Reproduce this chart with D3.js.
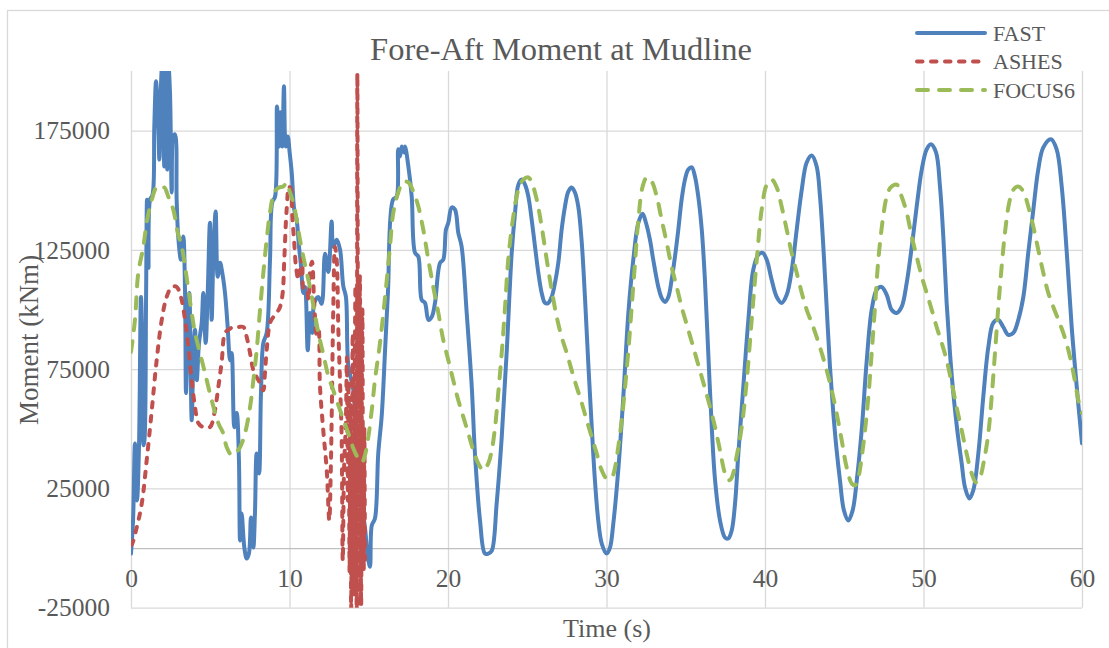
<!DOCTYPE html>
<html>
<head>
<meta charset="utf-8">
<script src="https://cdn.jsdelivr.net/npm/d3@7/dist/d3.min.js"></script>
<style>
  html, body { margin: 0; padding: 0; background: #fff; }
  svg { display: block; }
  text { font-family: "Liberation Serif", "Times New Roman", serif; fill: #595959; }
</style>
</head>
<body>
<svg id="chart" width="1109" height="648"></svg>
<script>
// Fore-aft tower-base moment (kNm) versus time (s) for three codes.
const fastSeries = [[0,-2300],[0.13,11600],[0.25,43900],[0.38,20000],[0.50,41000],[0.63,105300],[0.73,78800],[0.79,43100],[0.85,45200],[0.95,104100],[1.01,146100],[1.10,117500],[1.20,146100],[1.36,148200],[1.47,176800],[1.58,195700],[1.72,176800],[1.79,162900],[1.89,193600],[1.97,204100],[2.10,160000],[2.19,205000],[2.29,158700],[2.35,203700],[2.46,191100],[2.57,149100],[2.67,172600],[2.78,173500],[2.88,146100],[2.98,130600],[3.15,120900],[3.30,130600],[3.41,107000],[3.47,65000],[3.58,92700],[3.68,107000],[3.83,53600],[3.93,78800],[4.04,91500],[4.15,70400],[4.29,86000],[4.46,94400],[4.56,107000],[4.71,86000],[4.84,107000],[4.98,136400],[5.09,95700],[5.19,120900],[5.34,141100],[5.47,113800],[5.62,119600],[5.76,115400],[5.93,107000],[6.10,92700],[6.25,78800],[6.35,81800],[6.52,50700],[6.67,56600],[6.81,36800],[6.88,3200],[6.98,14500],[7.15,200],[7.30,-4400],[7.44,-2300],[7.57,12800],[7.72,200],[7.82,14500],[7.93,39700],[8.08,31300],[8.20,65000],[8.35,86000],[8.56,90200],[8.77,120900],[8.91,144900],[9.09,147400],[9.21,185200],[9.34,168400],[9.44,182700],[9.55,168400],[9.65,193600],[9.76,168400],[9.89,172600],[10.01,165900],[10.14,157500],[10.30,141900],[10.45,137700],[10.60,126400],[10.73,118000],[10.87,107000],[10.98,109500],[11.15,83000],[11.29,98600],[11.44,90200],[11.56,102800],[11.82,105300],[12.03,102400],[12.24,123400],[12.45,115800],[12.66,136900],[12.76,126400],[12.98,129300],[13.19,125100],[13.39,110000],[13.56,105300],[13.71,76700],[14.03,66200],[14.20,46500],[14.40,31300],[14.56,19100],[14.76,8600],[14.97,-4800],[15.08,-7800],[15.19,9500],[15.39,12400],[15.60,39700],[15.82,55700],[16.03,83000],[16.21,107000],[16.53,146100],[16.76,147400],[16.86,167200],[16.97,164200],[17.08,168400],[17.22,165900],[17.29,168400],[17.50,160000],[17.71,147400],[17.92,123800],[18.13,122200],[18.34,104100],[18.55,102800],[18.76,95700],[18.97,96900],[19.18,102800],[19.50,119600],[19.70,120900],[19.87,133500],[20.02,136400],[20.23,142800],[20.44,141900],[20.65,132200],[20.86,126400],[21.18,98600],[21.50,67500],[21.70,39700],[22.02,11600],[22.33,-2300],[22.54,-2300],[22.76,-1100],[23.07,18700],[23.39,46500],[23.70,81800],[24.02,123800],[24.23,140600],[24.44,152400],[24.65,154500],[24.86,152400],[25.07,147400],[25.28,137700],[25.49,126400],[25.70,115400],[25.91,107000],[26.12,102800],[26.33,102800],[26.54,105300],[26.75,111200],[26.96,119600],[27.17,133500],[27.38,143200],[27.59,149500],[27.80,151200],[28.01,149100],[28.22,143200],[28.44,128000],[28.64,105300],[28.85,77600],[29.07,50700],[29.27,28400],[29.48,11600],[29.70,1900],[30.01,-2300],[30.22,200],[30.43,10300],[30.74,32600],[31.06,63300],[31.38,98600],[31.69,120900],[32.01,136400],[32.28,140200],[32.49,136400],[32.74,129300],[32.95,120900],[33.27,109500],[33.48,104900],[33.69,103200],[33.90,105300],[34.11,112500],[34.32,122200],[34.53,133500],[34.74,146100],[34.95,154500],[35.16,158700],[35.38,159600],[35.58,155800],[35.79,147400],[36.01,133500],[36.21,112500],[36.42,81800],[36.64,50700],[36.85,28400],[37.16,11600],[37.48,4400],[37.68,4000],[37.90,7400],[38.11,18700],[38.32,39700],[38.63,67500],[38.95,95700],[39.26,116700],[39.58,123000],[39.85,123800],[40.11,120900],[40.42,112500],[40.74,105300],[41.05,102800],[41.37,106200],[41.69,116700],[42.00,133500],[42.32,150300],[42.63,161700],[42.95,164600],[43.26,160000],[43.47,147400],[43.68,126400],[43.89,101100],[44.10,75900],[44.31,56600],[44.52,41000],[44.73,28400],[44.98,15800],[45.26,11600],[45.53,15800],[45.79,28400],[46.10,49400],[46.42,78800],[46.73,99900],[47.05,108300],[47.36,109500],[47.68,106200],[47.99,99900],[48.31,98600],[48.62,101100],[48.94,111200],[49.26,126400],[49.57,143200],[49.89,158700],[50.20,167200],[50.47,169300],[50.79,165900],[51.04,151600],[51.25,130600],[51.46,102800],[51.67,81800],[51.88,65000],[52.13,49400],[52.41,35500],[52.62,25400],[52.89,20800],[53.14,24200],[53.46,39700],[53.77,63300],[54.09,84300],[54.40,94400],[54.72,95700],[55.03,92700],[55.35,89400],[55.67,90200],[55.98,95700],[56.30,105300],[56.61,123800],[56.93,141900],[57.24,158700],[57.56,168000],[58.04,171400],[58.40,167200],[58.72,151600],[59.04,123800],[59.35,92700],[59.67,67500],[60,43900]];

const ashesSeries = [[0,1100],[0.08,1900],[0.36,8600],[0.68,18700],[0.99,36800],[1.31,57800],[1.62,78800],[1.94,95700],[2.25,105300],[2.57,109500],[2.88,109500],[3.15,105300],[3.41,95700],[3.62,84300],[3.83,70400],[4.04,59100],[4.25,52400],[4.56,50700],[4.98,50700],[5.26,56600],[5.51,67500],[5.72,78000],[5.93,90200],[6.14,91500],[6.45,92700],[6.77,92700],[7.09,92700],[7.30,88500],[7.51,81800],[7.72,74600],[7.93,71700],[8.14,69200],[8.35,66200],[8.45,73400],[8.56,83000],[8.77,94400],[8.98,96900],[9.19,98600],[9.40,101100],[9.57,107000],[9.67,120900],[9.82,141900],[9.97,151600],[10.09,150300],[10.18,139000],[10.30,128000],[10.41,118000],[10.56,112500],[10.69,117500],[10.81,121700],[10.91,108300],[11.09,108300],[11.19,104100],[11.32,117500],[11.42,120100],[11.55,104100],[11.72,89400],[11.83,91500],[11.92,68300],[12.13,49400],[12.35,32600],[12.51,11600],[12.60,31300],[12.66,54000],[12.76,99400],[12.87,126400],[12.98,120500],[13.08,91900],[13.19,69200],[13.29,46500],[13.36,-5300],[13.44,32600],[13.56,54000],[13.62,80000],[13.68,20000],[13.73,70000],[13.79,-10000],[13.84,60000],[13.89,-26000],[13.94,40000],[13.99,90000],[14.04,10000],[14.08,-20000],[14.12,70000],[14.16,110000],[14.20,20000],[14.24,-27000],[14.28,199100],[14.32,60000],[14.36,-28000],[14.40,40000],[14.44,114000],[14.48,30000],[14.52,-24000],[14.56,60000],[14.60,100000],[14.64,10000],[14.68,-10000],[14.72,50000],[14.76,-5000]];

const focusSeries = [[0,82200],[0.25,95700],[0.46,115400],[0.78,126400],[0.99,136400],[1.31,146100],[1.62,151200],[1.89,150300],[2.10,151200],[2.35,147400],[2.67,141900],[2.95,132200],[3.20,126400],[3.41,118000],[3.62,108300],[3.83,98600],[4.04,90200],[4.35,81800],[4.67,73400],[5.09,62000],[5.51,52400],[5.82,48100],[6.04,42300],[6.35,38900],[6.56,39700],[6.88,42300],[7.19,48100],[7.51,59100],[7.72,70400],[7.93,83000],[8.14,99900],[8.35,115400],[8.56,129300],[8.77,140700],[9.04,149100],[9.34,151200],[9.61,151600],[9.82,153300],[10.03,149100],[10.24,144900],[10.45,137700],[10.66,129300],[10.87,122200],[11.09,115400],[11.29,109500],[11.50,102000],[11.82,90200],[12.13,81400],[12.45,72100],[12.76,66200],[13.08,59900],[13.39,54000],[13.71,48100],[14.03,41800],[14.34,37600],[14.57,36000],[14.76,38900],[14.97,46500],[15.19,57800],[15.39,70400],[15.71,86000],[16.03,105300],[16.34,126400],[16.55,140700],[16.86,149100],[17.18,153700],[17.50,153300],[17.81,149500],[18.13,143200],[18.44,133500],[18.76,120900],[19.07,109500],[19.39,98600],[19.70,87300],[20.02,78800],[20.33,70400],[20.65,62000],[20.97,54900],[21.28,48100],[21.60,41000],[21.91,35500],[22.23,32600],[22.54,35500],[22.76,41000],[22.97,50700],[23.17,65000],[23.39,81800],[23.60,101100],[23.80,120900],[24.12,139000],[24.44,150300],[24.75,154500],[25.07,155400],[25.28,153300],[25.60,146100],[25.91,134800],[26.23,120900],[26.54,108300],[26.86,96900],[27.17,88500],[27.49,81800],[27.80,74600],[28.12,67500],[28.44,60800],[28.75,53600],[29.07,46500],[29.38,39700],[29.70,32600],[30.01,29200],[30.33,29600],[30.54,33900],[30.74,42300],[30.96,53600],[31.17,67500],[31.38,83000],[31.59,101100],[31.80,119600],[32.01,137700],[32.28,151600],[32.54,155400],[32.85,153700],[33.17,147400],[33.48,137700],[33.80,128000],[34.11,117900],[34.43,109500],[34.74,101100],[35.16,91500],[35.58,81800],[36.01,71700],[36.42,62000],[36.85,50700],[37.16,41000],[37.48,31300],[37.73,28400],[37.90,29500],[38.20,38100],[38.53,50700],[38.85,70400],[39.16,95700],[39.48,120900],[39.79,141900],[40.11,152400],[40.42,154500],[40.74,151200],[41.05,143200],[41.37,133500],[41.68,123800],[42.00,115400],[42.32,107000],[42.63,99900],[42.95,94400],[43.26,88500],[43.58,81800],[43.89,74600],[44.21,66200],[44.52,56600],[44.84,45200],[45.15,33900],[45.47,27100],[45.68,26300],[45.89,29600],[46.10,38100],[46.31,49400],[46.52,63300],[46.73,81800],[46.94,101100],[47.15,120900],[47.43,137700],[47.68,147400],[47.93,151200],[48.31,152400],[48.62,147400],[48.94,140700],[49.26,130600],[49.57,122200],[49.89,113800],[50.20,107000],[50.52,99900],[50.83,92700],[51.15,86000],[51.46,78800],[51.78,69200],[52.09,59100],[52.41,49400],[52.72,39700],[53.04,31300],[53.31,27500],[53.56,29600],[53.82,36800],[54.09,48100],[54.30,63300],[54.51,81800],[54.72,101100],[54.93,117900],[55.14,132200],[55.41,144900],[55.67,150300],[55.98,151600],[56.30,149500],[56.61,143200],[56.93,134800],[57.24,125100],[57.56,115400],[57.87,107000],[58.19,101100],[58.51,95700],[58.82,90200],[59.14,83000],[59.46,73400],[59.77,62000],[60,56600]];

const seriesNames = ["FAST", "ASHES", "FOCUS6"];
const xTicks = [0, 10, 20, 30, 40, 50, 60];
const yTicks = [-25000, 25000, 75000, 125000, 175000];
const xDomain = [0, 60];
const yDomain = [-25000, 200000];

const svg = d3.select("#chart");
const plot = { left: 131, right: 1082, top: 71.1, bottom: 607.7 };

const x = d3.scaleLinear().domain(xDomain).range([plot.left, plot.right]);
const y = d3.scaleLinear().domain(yDomain).range([plot.bottom, plot.top]);

// chart area frame
svg.append("rect")
  .attr("x", 7.5).attr("y", 10.5)
  .attr("width", 1130).attr("height", 680)
  .attr("fill", "#fff").attr("stroke", "#D9D9D9").attr("stroke-width", 1.3);

// vertical gridlines
svg.append("g")
  .attr("transform", `translate(0,${plot.bottom})`)
  .call(d3.axisBottom(x).tickValues(xTicks).tickSize(-(plot.bottom - plot.top)).tickFormat(""))
  .call(g => g.select(".domain").remove())
  .call(g => g.selectAll(".tick line").attr("stroke", "#D9D9D9").attr("stroke-width", 1.3));

// horizontal gridlines + value labels (plain hyphen for negatives)
svg.append("g")
  .attr("transform", `translate(${plot.left},0)`)
  .call(d3.axisLeft(y).tickValues(yTicks).tickSize(-(plot.right - plot.left)).tickPadding(21).tickFormat(d => String(d)))
  .call(g => g.select(".domain").remove())
  .call(g => g.selectAll(".tick line").attr("stroke", "#D9D9D9").attr("stroke-width", 1.3))
  .call(g => g.selectAll(".tick text")
      .attr("font-family", "Liberation Serif, serif").attr("font-size", 25.5).attr("fill", "#595959"));

// horizontal axis through zero with time labels
svg.append("g")
  .attr("transform", `translate(0,${y(0)})`)
  .call(d3.axisBottom(x).tickValues(xTicks).tickSize(0).tickPadding(21))
  .call(g => g.select(".domain").attr("stroke", "#BFBFBF").attr("stroke-width", 1.3))
  .call(g => g.selectAll(".tick text")
      .attr("font-family", "Liberation Serif, serif").attr("font-size", 25.5).attr("fill", "#595959"));

// series
svg.append("clipPath").attr("id", "plotClip")
  .append("rect")
  .attr("x", plot.left).attr("y", plot.top)
  .attr("width", plot.right - plot.left).attr("height", plot.bottom - plot.top);

const line = d3.line()
  .x(d => x(d[0]))
  .y(d => y(d[1]))
  .curve(d3.curveCatmullRom.alpha(0.5));

const styles = [
  { data: fastSeries, color: "#4F81BD", dash: null },
  { data: ashesSeries, color: "#C0504D", dash: "5.5,8.5" },
  { data: focusSeries, color: "#9BBB59", dash: "11,11" }
];

const series = svg.append("g").attr("clip-path", "url(#plotClip)");
styles.forEach(s => {
  series.append("path")
    .attr("d", line(s.data))
    .attr("fill", "none")
    .attr("stroke", s.color)
    .attr("stroke-width", 4)
    .attr("stroke-linejoin", "round")
    .attr("stroke-linecap", "round")
    .attr("stroke-dasharray", s.dash);
});

// title
svg.append("text")
  .attr("x", 561).attr("y", 60)
  .attr("text-anchor", "middle")
  .attr("font-size", 32.5)
  .text("Fore-Aft Moment at Mudline");

// axis titles
svg.append("text")
  .attr("transform", "translate(38,340) rotate(-90)")
  .attr("text-anchor", "middle")
  .attr("font-size", 27)
  .text("Moment (kNm)");

svg.append("text")
  .attr("x", 607).attr("y", 637)
  .attr("text-anchor", "middle")
  .attr("font-size", 26)
  .text("Time (s)");

// legend
const legend = svg.append("g");
seriesNames.forEach((name, i) => {
  const ly = 33 + i * 28.5;
  legend.append("line")
    .attr("x1", 917).attr("x2", 985)
    .attr("y1", ly).attr("y2", ly)
    .attr("stroke", styles[i].color)
    .attr("stroke-width", 4)
    .attr("stroke-linecap", "round")
    .attr("stroke-dasharray", styles[i].dash);
  legend.append("text")
    .attr("x", 993).attr("y", ly + 7.5)
    .attr("font-size", 22)
    .text(name);
});
</script>
</body>
</html>
